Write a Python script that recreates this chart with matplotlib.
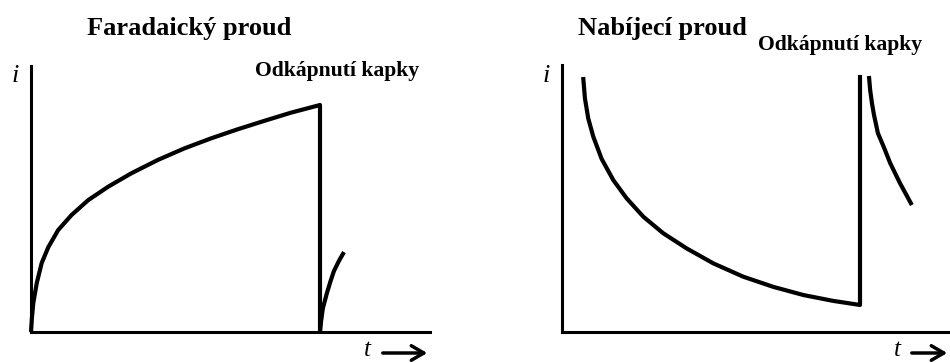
import matplotlib
matplotlib.use("Agg")
import matplotlib.pyplot as plt
from matplotlib.patches import FancyArrowPatch

# ---- data (t in units of drop time, i normalised) ----
far_t = [0.0, 0.003, 0.008, 0.020, 0.037, 0.060, 0.094, 0.140, 0.198, 0.267, 0.347,
         0.439, 0.531, 0.623, 0.715, 0.807, 0.899, 1.000, 1.000]
far_i = [0.0, 0.060, 0.128, 0.216, 0.304, 0.374, 0.449, 0.515, 0.581, 0.640, 0.699,
         0.758, 0.809, 0.853, 0.893, 0.930, 0.966, 1.000, 0.000]
far2_t = [1.000, 1.004, 1.010, 1.024, 1.036, 1.048, 1.065, 1.083]
far2_i = [0.000, 0.050, 0.105, 0.172, 0.222, 0.268, 0.312, 0.352]

cap_t = [0.071, 0.077, 0.088, 0.105, 0.133, 0.172, 0.217, 0.273, 0.340, 0.418,
         0.508, 0.608, 0.709, 0.810, 0.910, 1.000, 1.000]
cap_i = [1.000, 0.916, 0.838, 0.766, 0.679, 0.596, 0.524, 0.452, 0.387, 0.328,
         0.269, 0.217, 0.177, 0.145, 0.122, 0.106, 1.008]
cap2_t = [1.030, 1.034, 1.040, 1.047, 1.060, 1.081, 1.101, 1.134, 1.154, 1.174]
cap2_i = [1.004, 0.950, 0.898, 0.851, 0.780, 0.722, 0.663, 0.584, 0.541, 0.498]

titles = ["Faradaický proud", "Nabíjecí proud"]
drop_label = "Odkápnutí kapky"
y_label = "i"
x_label = "t"

W, H = 950, 363
fig = plt.figure(figsize=(W / 100, H / 100), dpi=100)

def px_axes(x0, x1, ytop, ybot):
    return fig.add_axes([x0 / W, (H - ybot) / H, (x1 - x0) / W, (ybot - ytop) / H])

serif = "Liberation Serif"

def style(ax):
    for s in ("top", "right"):
        ax.spines[s].set_visible(False)
    for s in ("left", "bottom"):
        ax.spines[s].set_linewidth(2.2)
        ax.spines[s].set_capstyle("projecting")
    ax.set_xticks([])
    ax.set_yticks([])
    ax.patch.set_alpha(0)

# left panel
ax1 = px_axes(31, 430, 66, 332)
style(ax1)
ax1.plot(far_t, far_i, color="black", lw=3.0, solid_joinstyle="round",
         solid_capstyle="butt", clip_on=False)
ax1.plot(far2_t, far2_i, color="black", lw=3.0, solid_joinstyle="round",
         solid_capstyle="butt", clip_on=False)
ax1.set_xlim(0, 399 / 289)
ax1.set_ylim(0, 266 / 227)

# right panel
ax2 = px_axes(562, 950, 65, 332)
style(ax2)
ax2.plot(cap_t, cap_i, color="black", lw=3.0, solid_joinstyle="round",
         solid_capstyle="butt", clip_on=False)
ax2.plot(cap2_t, cap2_i, color="black", lw=3.0, solid_joinstyle="round",
         solid_capstyle="butt", clip_on=False)
ax2.set_xlim(0, 388 / 298)
ax2.set_ylim(0, 267 / 255)

def ftext(x, y, s, **kw):
    fig.text(x / W, (H - y) / H, s, **kw)

ftext(87, 35, titles[0], family=serif, weight="bold", fontsize=19, va="baseline", ha="left")
ftext(578, 35, titles[1], family=serif, weight="bold", fontsize=19, va="baseline", ha="left")
ftext(255, 76, drop_label, family=serif, weight="bold", fontsize=15.6, va="baseline", ha="left")
ftext(758, 50, drop_label, family=serif, weight="bold", fontsize=15.6, va="baseline", ha="left")

ftext(15, 76, y_label, family=serif, style="italic", fontsize=19, va="center", ha="center")
ftext(546, 76, y_label, family=serif, style="italic", fontsize=19, va="center", ha="center")

ftext(367, 350, x_label, family=serif, style="italic", fontsize=18, va="center", ha="center")
ftext(897, 350, x_label, family=serif, style="italic", fontsize=18, va="center", ha="center")

for xa, xb in ((380, 430), (909, 950)):
    fig.add_artist(FancyArrowPatch(
        (xa / W, (H - 353) / H), (xb / W, (H - 353) / H),
        transform=fig.transFigure, arrowstyle="->,head_length=6,head_width=3.5",
        lw=2.5, color="black", mutation_scale=1.5))

fig.savefig("out.png", dpi=100)
